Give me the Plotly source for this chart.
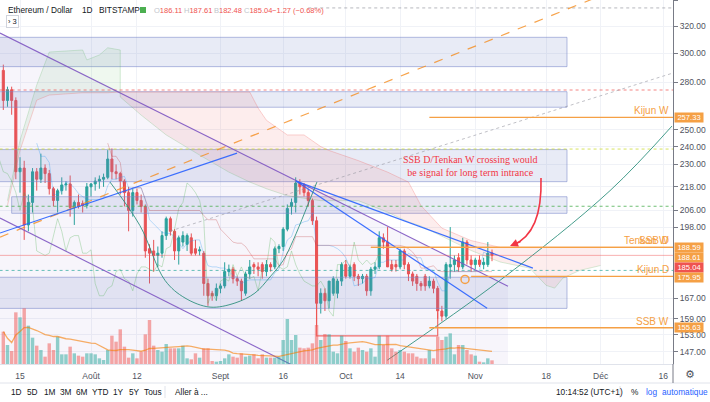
import numpy as np
import pandas as pd
import plotly.graph_objects as go

# ---------------- data ----------------
dates = pd.date_range("2019-07-11", "2019-11-05", freq="D")

opens = [288, 268, 275, 268, 226, 228, 199, 210, 226, 222, 228, 225, 217, 211, 216, 219, 219.5, 207.5, 210, 209.5, 208.5,
         218, 219.5, 221, 222, 223, 233, 226, 225, 221, 215, 206, 215, 211, 208, 188, 187, 185, 186, 194, 202, 196, 187, 191, 190,
         193, 188, 187, 186, 173, 169, 168,
         171, 172, 178, 179, 175, 174, 169, 177, 181, 180, 181, 178, 181, 180, 188, 189, 197, 208, 210, 220, 219, 215, 211, 201,
         165, 169, 166, 169, 169, 174,
         181, 176, 181, 176, 175, 176, 170, 179, 180, 193, 191, 181, 181, 180, 187, 181, 177, 176, 173, 176, 172, 174, 171, 162,
         160, 180, 181, 184, 180, 191, 183,
         181, 183, 181, 181, 186.11]
highs = [292, 277, 277, 270, 234, 232, 214, 228, 228, 236, 230, 227, 218, 217, 223, 221, 224, 211, 214, 211, 220,
         220, 223, 224, 225, 238, 239, 230, 226, 222, 218, 217, 217, 214, 209, 190, 192, 189, 196, 203, 203, 197, 194, 196, 195,
         195, 192, 189, 187, 175, 170, 173,
         173, 182, 181, 180, 176, 175, 178, 183, 182, 182, 182, 183, 182, 189, 190, 198, 209, 212, 223, 222, 220, 217, 212, 203,
         171, 171, 174, 176, 175, 182,
         183, 181, 182, 177, 177, 177, 180, 182, 196, 195, 198, 183, 183, 188, 188, 182, 178, 177, 174, 177, 176, 175, 172, 164,
         182, 198, 185, 186, 193, 192, 185,
         184, 185, 184, 191, 187.61]
lows = [262, 264, 259, 222, 215, 192, 196, 205, 216, 220, 220, 214, 208, 205, 214, 216, 203, 199, 207, 205, 207,
        213, 216, 217, 218, 222, 222, 222, 214, 208, 196, 203, 209, 205, 184, 173, 178, 180, 184, 192, 194, 183, 181, 189, 187,
        185, 185, 185, 168, 164, 166, 166,
        169, 171, 176, 173, 172, 166, 168, 175, 177, 176, 175, 176, 178, 179, 186, 187, 196, 204, 205, 214, 213, 208, 199, 156,
        161, 162, 163, 168, 167, 172,
        175, 175, 174, 172, 173, 168, 168, 177, 179, 188, 180, 178, 178, 179, 179, 174, 172, 170, 170, 170, 171, 169, 159, 158,
        159, 175, 178, 178, 179, 181, 178,
        179, 180, 179, 180, 182.48]
closes = [268, 275, 268, 226, 228, 199, 210, 226, 222, 228, 225, 217, 211, 216, 219, 219.5, 207.5, 210, 208, 208.5, 218,
          219.5, 221, 222, 223, 233, 226, 225, 221, 215, 206, 215, 211, 208, 187, 186, 185, 186, 194, 202, 196, 187, 193, 194, 194,
          186, 186, 187.5, 173, 168, 168, 171,
          172, 178, 179, 175, 174, 170, 177, 180, 180, 179, 178, 181, 180, 188, 189, 197, 207, 210, 220, 218, 215, 211, 201, 165,
          169, 166, 174, 175, 174, 181,
          176, 180, 176, 175, 176, 170, 179, 180, 193, 191, 180, 179, 180, 187, 181, 177, 174, 173, 172, 172, 174, 171, 162, 160,
          181, 181, 183, 180, 191, 183, 181,
          183, 181, 182, 186, 185.04]
volumes = [97, 57, 39, 155, 140, 167, 115, 79, 55, 42, 22, 62, 42, 82, 29, 29, 52, 32, 25, 22, 32,
           32, 29, 17, 12, 42, 85, 67, 104, 52, 19, 32, 17, 37, 89, 132, 55, 42, 37, 60, 47, 47, 47, 55, 17,
           14, 32, 19, 47, 47, 9, 7,
           9, 17, 29, 22, 19, 32, 22, 25, 29, 17, 29, 19, 19, 19, 22, 72, 135, 72, 87, 49, 47, 49, 62, 117,
           72, 90, 89, 37, 32, 85,
           69, 47, 37, 49, 42, 37, 47, 22, 85, 57, 85, 47, 37, 42, 37, 32, 32, 22, 17, 17, 42, 17, 82, 72,
           82, 92, 29, 57, 57, 42, 29,
           25, 7, 5, 17, 11]

# Ichimoku cloud spans
green_dates = ["2019-07-12", "2019-07-15", "2019-07-19", "2019-07-22", "2019-07-30", "2019-07-31",
               "2019-08-03", "2019-08-05", "2019-08-08"]
green_span_a = [210.9, 243.6, 278.1, 300.9, 302.4, 295.3, 298.8, 304.0, 302.4]
green_span_b = [208.4, 237.8, 268.2, 271.5, 273.0, 273.0, 273.0, 273.0, 273.5]
red_dates = ["2019-08-08", "2019-08-13", "2019-08-19", "2019-08-27", "2019-09-03", "2019-09-08", "2019-09-10",
             "2019-09-12", "2019-09-17", "2019-09-21", "2019-09-25", "2019-09-27", "2019-10-04", "2019-10-11",
             "2019-10-16", "2019-10-19", "2019-10-24", "2019-10-31", "2019-11-07", "2019-11-14", "2019-11-18",
             "2019-11-20", "2019-11-22", "2019-11-26", "2019-12-01"]
red_span_b = [273.5, 273.5, 273.5, 273.5, 273.5, 273.5, 263.2, 255.6, 246.8, 246.8, 240.0, 237.8, 232.1, 225.8,
              220.5, 208.4, 197.5, 191.7, 188.59, 188.59, 188.59, 188.59, 188.59, 188.59, 188.59]
red_span_a = [270.2, 258.8, 246.8, 235.2, 225.8, 220.5, 218.6, 217.0, 213.4, 212.0, 210.9, 210.9, 210.9, 205.2,
              200.4, 198.5, 193.8, 187.2, 182.1, 179.5, 172.2, 171.1, 175.3, 178.5, 180.6]

# zones (price bands)
zone_low = [290.6, 263.7, 220.7, 204.6, 163.0]
zone_high = [311.7, 273.7, 238.3, 212.9, 175.6]
zone_start = ["2019-07-01", "2019-07-01", "2019-07-01", "2019-07-13", "2019-07-01"]
zone_end = "2019-11-22 23:00"

# key levels
level_names = ["Kijun W", "Tenkan W", "SSB D", "Kijun D", "SSB W"]
level_values = [257.33, 188.59, 188.61, 175.95, 155.63]
level_start = ["2019-10-21", "2019-10-07", "2019-10-07", "2019-10-31", "2019-10-21"]
last_close = 185.04

dotted_levels = [334.4, 274.8, 238.6, 208.1, 178.5]
dotted_start = ["2019-09-22", "2019-06-20", "2019-06-20", "2019-06-20", "2019-06-20"]
dotted_colors = ["rgba(120,123,134,0.55)", "rgba(239,83,80,0.7)", "rgba(205,220,57,0.8)",
                 "rgba(76,175,80,0.8)", "rgba(38,166,154,0.7)"]

# drawings (date, price)
channel_top = (["2019-07-10 05:00", "2019-11-08 20:00"], [314.9, 171.9])
channel_bottom = (["2019-07-10 05:00", "2019-09-20 01:00"], [202.3, 141.0])
blue_lines = [
    (["2019-07-10 05:00", "2019-09-04 23:00"], [195.2, 236.3]),
    (["2019-09-19 02:00", "2019-11-14 19:00"], [221.0, 179.5]),
    (["2019-09-19 02:00", "2019-11-03 20:00"], [221.0, 163.1]),
]
orange_dash = (["2019-07-10 05:00", "2019-11-30 21:00"], [193.3, 344.1])
gray_dotted = (["2019-08-19 22:00", "2019-12-18 08:00"], [196.1, 286.2])
teal_trend = (["2019-10-10 22:00", "2019-11-06 22:00", "2019-12-03 06:00", "2019-12-18 02:00"],
              [144.0, 174.3, 216.0, 252.1])
cup_dates = ["2019-08-05 13:00", "2019-08-12 17:00", "2019-08-18 17:00", "2019-08-23 12:00", "2019-08-29 12:00",
             "2019-09-04 11:00", "2019-09-09 06:00", "2019-09-12 20:00", "2019-09-16 00:00", "2019-09-18 09:00",
             "2019-09-21 05:00", "2019-09-24 02:00"]
cup_prices = [220.5, 198.7, 174.3, 167.1, 163.5, 165.1, 169.1, 175.7, 182.8, 191.7, 205.2, 220.5]
red_box = (["2019-09-24", "2019-09-24", "2019-10-23", "2019-10-23"], [201.0, 152.6, 152.6, 161.5])
alarm_point = (["2019-10-29 13:00"], [174.7])

tick_dates = ["2019-07-15", "2019-08-01", "2019-08-12", "2019-09-01", "2019-09-16", "2019-10-01",
              "2019-10-14", "2019-11-01", "2019-11-18", "2019-12-01", "2019-12-16"]
tick_text = ["15", "Août", "12", "Sept", "16", "Oct", "14", "Nov", "18", "Déc", "16"]
price_ticks = [147, 153, 159, 167, 198, 206, 218, 230, 240, 250, 280, 300, 320, 340]

header_items = ["Ethereum / Dollar", "1D", "BITSTAMP"]
ohlc_labels = ["O", "H", "B", "C", "", ""]
ohlc_values = ["186.11", "187.61", "182.48", "185.04", "\u22121.27", "(\u22120.68%)"]
toolbar_left = ["1D", "5D", "1M", "3M", "6M", "YTD", "1Y", "5Y", "Tous", "Aller à ..."]
toolbar_right = ["10:14:52 (UTC+1)", "%", "log", "automatique"]

# price-axis tags: (text, position on axis, colour)
tag_text = ["257.33", "188.59", "188.61", "185.04", "175.95", "155.63"]
tag_pos = [257.33, 188.59, 184.1, 179.9, 175.6, 155.8]
tag_color = ["#f5a045", "#f5a045", "#f5a045", "#ef5350", "#f5a045", "#f5a045"]

# ---------------- derived indicators ----------------
df = pd.DataFrame({"o": opens, "h": highs, "l": lows, "c": closes, "v": volumes}, index=dates)
tenkan = (df.h.rolling(9).max() + df.l.rolling(9).min()) / 2
kijun = (df.h.rolling(26).max() + df.l.rolling(26).min()) / 2
vol_ma = df.v.rolling(20, min_periods=1).mean()
chikou_x = dates - pd.Timedelta(days=26)

UP, DOWN = "#26a69a", "#ef5350"
ORANGE = "#f5a045"
X0, X1 = "2019-07-10 05:00", "2019-12-18 08:00"
FAR0, FAR1 = "2019-06-20", "2020-01-20"
YMIN, YMAX = 142.7, 340.8

fig = go.Figure()

# channel fill
fig.add_trace(go.Scatter(x=[channel_top[0][0], channel_top[0][1], channel_top[0][1], channel_top[0][0]],
                         y=[channel_top[1][0], channel_top[1][1], 120, 120], fill="toself",
                         fillcolor="rgba(126,87,194,0.06)", line=dict(width=0), mode="lines", hoverinfo="skip"))
# zones
for lo, hi, st in zip(zone_low, zone_high, zone_start):
    fig.add_trace(go.Scatter(x=[st, zone_end, zone_end, st, st], y=[lo, lo, hi, hi, lo], fill="toself",
                             fillcolor="rgba(121,134,203,0.17)", line=dict(color="rgba(121,134,203,0.55)", width=1),
                             mode="lines", hoverinfo="skip"))
# cloud
fig.add_trace(go.Scatter(x=green_dates + green_dates[::-1], y=green_span_a + green_span_b[::-1], fill="toself",
                         fillcolor="rgba(76,175,80,0.09)", line=dict(width=0), mode="lines", hoverinfo="skip"))
fig.add_trace(go.Scatter(x=red_dates + red_dates[::-1], y=red_span_b + red_span_a[::-1], fill="toself",
                         fillcolor="rgba(239,83,80,0.10)", line=dict(width=0), mode="lines", hoverinfo="skip"))
fig.add_trace(go.Scatter(x=green_dates + red_dates, y=green_span_a + red_span_a, mode="lines",
                         line=dict(color="rgba(76,175,80,0.22)", width=1), hoverinfo="skip"))
fig.add_trace(go.Scatter(x=green_dates + red_dates, y=green_span_b + red_span_b, mode="lines",
                         line=dict(color="rgba(239,83,80,0.25)", width=1), hoverinfo="skip"))

# volume
vol_colors = ["rgba(38,166,154,0.5)" if c >= o else "rgba(239,83,80,0.5)" for o, c in zip(opens, closes)]
fig.add_trace(go.Bar(x=dates, y=volumes, marker=dict(color=vol_colors, line=dict(width=0)), yaxis="y2",
                     hoverinfo="skip"))
fig.add_trace(go.Scatter(x=dates, y=vol_ma, yaxis="y2", mode="lines",
                         line=dict(color="rgba(245,124,0,0.6)", width=1.3), hoverinfo="skip"))

# dotted levels
for lv, st, col in zip(dotted_levels, dotted_start, dotted_colors):
    fig.add_trace(go.Scatter(x=[st, FAR1], y=[lv, lv], mode="lines",
                             line=dict(color=col, width=1, dash="dot"), hoverinfo="skip"))

# ichimoku lines
fig.add_trace(go.Scatter(x=chikou_x, y=closes, mode="lines", line=dict(color="rgba(76,175,80,0.3)", width=1)))
fig.add_trace(go.Scatter(x=dates, y=tenkan, mode="lines", line=dict(color="rgba(33,150,243,0.3)", width=1)))
fig.add_trace(go.Scatter(x=dates, y=kijun, mode="lines", line=dict(color="rgba(183,28,28,0.25)", width=1)))

# drawings
fig.add_trace(go.Scatter(x=list(orange_dash[0]), y=list(orange_dash[1]), mode="lines",
                         line=dict(color="rgba(245,140,30,0.8)", width=1.2, dash="dash")))
fig.add_trace(go.Scatter(x=list(gray_dotted[0]), y=list(gray_dotted[1]), mode="lines",
                         line=dict(color="rgba(150,150,160,0.6)", width=1, dash="dot")))
for xs, ys in (channel_top, channel_bottom):
    fig.add_trace(go.Scatter(x=xs, y=ys, mode="lines", line=dict(color="rgba(126,87,194,0.9)", width=1.1)))
for xs, ys in blue_lines:
    fig.add_trace(go.Scatter(x=xs, y=ys, mode="lines", line=dict(color="rgba(41,98,255,0.9)", width=1.2)))
fig.add_trace(go.Scatter(x=list(teal_trend[0]), y=list(teal_trend[1]), mode="lines", line_shape="spline",
                         line=dict(color="rgba(38,140,120,0.85)", width=1)))
fig.add_trace(go.Scatter(x=cup_dates, y=cup_prices, mode="lines", line_shape="spline",
                         line=dict(color="rgba(38,140,120,0.85)", width=1)))
fig.add_trace(go.Scatter(x=list(red_box[0]), y=list(red_box[1]), mode="lines",
                         line=dict(color="rgba(239,83,80,0.85)", width=1.2)))

# key levels
for name, val, st in zip(level_names, level_values, level_start):
    fig.add_trace(go.Scatter(x=[st, FAR1], y=[val, val], mode="lines", line=dict(color=ORANGE, width=1.3)))
fig.add_trace(go.Scatter(x=[FAR0, FAR1], y=[last_close, last_close], mode="lines",
                         line=dict(color="rgba(239,83,80,0.45)", width=1)))

# candles
fig.add_trace(go.Candlestick(x=dates, open=opens, high=highs, low=lows, close=closes,
                             increasing=dict(line=dict(color=UP, width=1), fillcolor=UP),
                             decreasing=dict(line=dict(color=DOWN, width=1), fillcolor=DOWN),
                             whiskerwidth=0, hoverinfo="skip"))

fig.add_trace(go.Scatter(x=alarm_point[0], y=alarm_point[1], mode="markers",
                         marker=dict(symbol="circle-open", size=8, color=ORANGE, line=dict(width=1.5))))

# ---------------- layout ----------------
PLOT_W, PLOT_H = 673, 364


def px(x):
    return x / PLOT_W


def py(y):
    return 1 - y / PLOT_H


ann = []
font_ui = "Liberation Sans"


def label(x, y, text, size=8, color="#131722", anchor="left", **kw):
    d = dict(x=px(x), y=py(y), xref="paper", yref="paper", xanchor=anchor, yanchor="middle", showarrow=False,
             text=text, font=dict(family=font_ui, size=size, color=color))
    d.update(kw)
    ann.append(d)


# header
for xpos, t in zip([6, 80, 97], header_items):
    label(xpos, 10, t, size=8.3)
for xpos, l, v in zip([152, 182, 212, 242, 270, 291], ohlc_labels, ohlc_values):
    txt = (f"<span style='color:#c2c5cc'>{l}</span>{v}" if l else v)
    label(xpos, 10, txt, size=7.5, color="#ef5350")
label(6, 21, "\u203a 3", size=7.5, bordercolor="#d1d4dc", borderwidth=1, borderpad=1, bgcolor="white")

# price tags
for t, yv, col in zip(tag_text, tag_pos, tag_color):
    ann.append(dict(x=1, xref="paper", y=np.log10(yv), yref="y", xanchor="left", yanchor="middle", xshift=1,
                    showarrow=False, text=t, bgcolor=col, borderpad=0, width=28, height=8.5, align="center",
                    font=dict(family=font_ui, size=7.6, color="white")))
# level labels
for name, val in [("Kijun W", 257.33), ("Tenkan W", 188.59), ("SSB D", 188.59), ("Kijun D", 175.95),
                  ("SSB W", 155.63)]:
    ann.append(dict(x=1, xref="paper", y=np.log10(val), yref="y", xanchor="right", yanchor="bottom", xshift=-2,
                    yshift=-1, showarrow=False, text=name, font=dict(family=font_ui, size=10, color=ORANGE)))

# red comment
ann.append(dict(x=px(540), y=py(166), xref="paper", yref="paper", showarrow=False, align="center",
                text="SSB D/Tenkan W crossing would<br>be signal for long term intrance",
                font=dict(family="Liberation Serif", size=10, color="#f23645")))
ann.append(dict(x=px(510), y=py(246), xref="paper", yref="paper", showarrow=True, text="", ax=12, ay=-5,
                arrowhead=2, arrowsize=1, arrowwidth=1.6, arrowcolor="#f23645"))

# bottom toolbar
for xpos, t in zip([9, 25, 42, 58, 74, 90, 111, 127, 142, 173], toolbar_left):
    label(xpos, 392, t, size=8.3)
for xpos, t, col in zip([554, 629, 644, 660], toolbar_right, ["#131722", "#131722", "#2962ff", "#2962ff"]):
    label(xpos, 392, t, size=8.3, color=col)
ann.append(dict(x=px(690), y=py(375), xref="paper", yref="paper", xanchor="center", yanchor="middle",
                showarrow=False, text="\u2699", font=dict(family="DejaVu Sans", size=11, color="#50535e")))

shapes = [
    dict(type="rect", xref="paper", yref="paper", x0=px(140), x1=px(146), y0=py(13), y1=py(7),
         fillcolor="#4caf50", line=dict(width=0)),
    dict(type="path", xref="paper", yref="paper",
         path=f"M {px(541)},{py(178)} C {px(542)},{py(214)} {px(533)},{py(237)} {px(513)},{py(245)}",
         line=dict(color="#f23645", width=1.6)),
    dict(type="line", xref="paper", yref="paper", x0=0, x1=710 / PLOT_W, y0=py(383), y1=py(383),
         line=dict(color="#e0e3eb", width=1)),
    dict(type="line", xref="paper", yref="paper", x0=px(165), x1=px(165), y0=py(386), y1=py(398),
         line=dict(color="#e0e3eb", width=1)),
    dict(type="line", xref="paper", yref="paper", x0=px(620), x1=px(620), y0=py(386), y1=py(398),
         line=dict(color="#e0e3eb", width=1)),
    dict(type="line", xref="paper", yref="paper", x0=1, x1=1, y0=py(364), y1=py(383),
         line=dict(color="#787b86", width=1)),
]

fig.update_layout(
    width=710, height=402, margin=dict(l=0, r=37, t=0, b=38),
    paper_bgcolor="white", plot_bgcolor="white", showlegend=False, bargap=0.18,
    annotations=ann, shapes=shapes, hovermode=False,
    xaxis=dict(type="date", range=[X0, X1], rangeslider=dict(visible=False), tickvals=tick_dates,
               ticktext=tick_text, showgrid=True, gridcolor="#f0f2f7", zeroline=False, ticks="",
               tickfont=dict(family=font_ui, size=8.5, color="#50535e"), ticklabelstandoff=4,
               showline=True, linecolor="#e0e3eb"),
    yaxis=dict(type="log", side="right", range=[np.log10(YMIN), np.log10(YMAX)], tickvals=price_ticks,
               ticktext=[f"{v:.2f}" for v in price_ticks], showgrid=True, gridcolor="#f0f2f7",
               showline=True, linecolor="#787b86", ticks="outside", ticklen=4, tickcolor="#787b86",
               tickfont=dict(family=font_ui, size=8.5, color="#50535e"), zeroline=False),
    yaxis2=dict(overlaying="y", range=[0, 1092], visible=False),
)

fig.write_html("out.html")
